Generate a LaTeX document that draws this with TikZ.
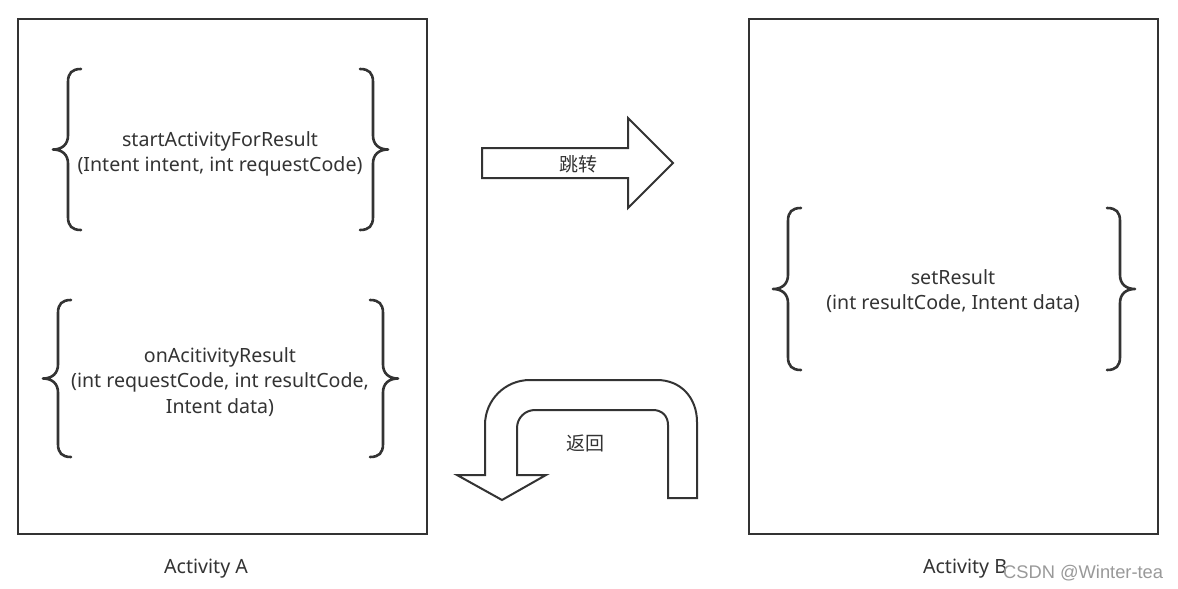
\documentclass[tikz,border=0pt]{standalone}
\usepackage{fontspec}
\setmainfont{Noto Sans}
\newfontfamily\cjk{Noto Sans CJK SC}
\newfontfamily\wm{Liberation Sans}
\definecolor{ink}{HTML}{333333}
\definecolor{wmgray}{HTML}{999999}
\tikzset{
  frame/.style={draw=ink, line width=2pt, minimum width=409pt, minimum height=515pt, inner sep=0pt},
  brc/.style={draw=ink, line width=2.6pt, line cap=round, line join=round},
  bigarrow/.style={draw=ink, line width=2pt, fill=white, line join=miter},
  txt/.style={text=ink, font=\fontsize{19.6}{25.5}\selectfont, align=center, inner sep=0pt},
  cjktxt/.style={text=ink, font=\cjk\fontsize{19}{22}\selectfont, inner sep=0pt},
}
% left brace: #1 = vertical x, #2 = top, #3 = bottom
\newcommand{\mybraceL}[3]{%
  \draw[brc] ({#1+13},{#2}) .. controls ({#1+4},{#2}) and ({#1},{#2+4}) .. ({#1},{#2+13})
    -- ({#1},{(#2+#3)/2-14}) .. controls ({#1},{(#2+#3)/2-5}) and ({#1-6},{(#2+#3)/2}) .. ({#1-15},{(#2+#3)/2})
    .. controls ({#1-6},{(#2+#3)/2}) and ({#1},{(#2+#3)/2+5}) .. ({#1},{(#2+#3)/2+14})
    -- ({#1},{#3-13}) .. controls ({#1},{#3-4}) and ({#1+4},{#3}) .. ({#1+13},{#3});}
\newcommand{\mybraceR}[3]{%
  \draw[brc] ({#1-13},{#2}) .. controls ({#1-4},{#2}) and ({#1},{#2+4}) .. ({#1},{#2+13})
    -- ({#1},{(#2+#3)/2-14}) .. controls ({#1},{(#2+#3)/2-5}) and ({#1+6},{(#2+#3)/2}) .. ({#1+15},{(#2+#3)/2})
    .. controls ({#1+6},{(#2+#3)/2}) and ({#1},{(#2+#3)/2+5}) .. ({#1},{(#2+#3)/2+14})
    -- ({#1},{#3-13}) .. controls ({#1},{#3-4}) and ({#1-4},{#3}) .. ({#1-13},{#3});}
\begin{document}
\begin{tikzpicture}[x=1pt,y=-1pt]
\useasboundingbox[fill=white] (0,0) rectangle (1178,589);

% activity frames
\node[frame] (actA) at (222.5,276.5) {};
\node[frame] (actB) at (953.5,276.5) {};

% braces
\mybraceL{68}{69}{230}
\mybraceR{373}{69}{230}
\mybraceL{58}{300}{457}
\mybraceR{383}{300}{457}
\mybraceL{788}{208}{370}
\mybraceR{1120}{208}{370}

% texts
\node[txt] (start) at (220,154) {startActivityForResult\\(Intent intent, int requestCode)};
\node[txt] (onres) at (220,382) {onAcitivityResult\\(int requestCode, int resultCode,\\Intent data)};
\node[txt] (setres) at (953,291) {setResult\\(int resultCode, Intent data)};

% forward arrow
\draw[bigarrow] (482,148) -- (628,148) -- (628,118) -- (673,163) -- (628,208) -- (628,178) -- (482,178) -- cycle;
\node[cjktxt] (jump) at (578,164) {跳转};

% return U-turn arrow
\draw[bigarrow] (697,498) -- (697,422)
  .. controls (697,398) and (681,380) .. (657,380)
  -- (530,380)
  .. controls (505,380) and (485,400) .. (485,425)
  -- (485,475) -- (457,475) -- (502,500) -- (546,475) -- (517,475)
  -- (517,428)
  .. controls (517,418) and (525,410) .. (535,410)
  -- (653,410)
  .. controls (662,410) and (668,416) .. (668,425)
  -- (668,498) -- cycle;
\node[cjktxt] (back) at (585,443) {返回};

% captions
\node[txt] (labA) at (206,569) {Activity A};
\node[txt] (labB) at (965,569) {Activity B};
\node[text=wmgray, font=\wm\fontsize{18.3}{20}\selectfont, inner sep=0pt, anchor=west] (mark) at (1003,573) {CSDN @Winter-tea};
\end{tikzpicture}
\end{document}
